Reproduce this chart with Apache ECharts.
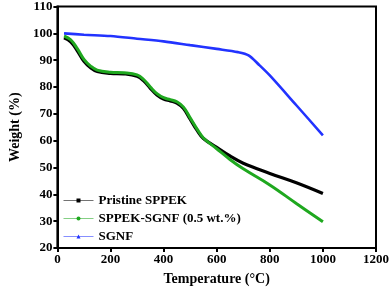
<!DOCTYPE html>
<html><head><meta charset="utf-8">
<script src="https://cdn.jsdelivr.net/npm/echarts@6/dist/echarts.min.js"></script>
<style>html,body{margin:0;padding:0;background:#fff}#c{width:392px;height:292px}</style>
</head><body><div id="c"></div>
<script>
const pristineT = [25, 50, 75, 100, 125, 150, 200, 250, 300, 325, 350, 375, 400, 425, 450, 475, 500, 525, 550, 600, 650, 700, 800, 900, 1000];
const pristineW = [98.3, 96.8, 93.5, 89.6, 87.2, 85.8, 85.1, 84.9, 84.0, 82.3, 79.5, 77.0, 75.5, 74.8, 74.0, 72.0, 68.0, 64.0, 60.8, 57.5, 54.3, 51.6, 47.8, 44.3, 40.3];
const sgnfCompT = [25, 50, 75, 100, 125, 150, 200, 250, 300, 325, 350, 375, 400, 425, 450, 475, 500, 525, 550, 600, 650, 700, 800, 900, 1000];
const sgnfCompW = [99.0, 97.6, 94.3, 90.3, 87.8, 86.3, 85.5, 85.3, 84.5, 82.8, 80.0, 77.5, 76.0, 75.3, 74.5, 72.5, 68.5, 64.5, 61.0, 57.0, 53.0, 49.5, 43.5, 36.6, 29.8];
const sgnfT = [25, 100, 200, 300, 400, 500, 600, 680, 720, 760, 800, 900, 1000];
const sgnfW = [100.0, 99.5, 99.0, 98.0, 97.0, 95.6, 94.2, 93.0, 91.8, 88.2, 84.3, 73.2, 62.0];
const seriesNames = ['Pristine SPPEK', 'SPPEK-SGNF (0.5 wt.%)', 'SGNF'];
const xTicks = [0, 200, 400, 600, 800, 1000, 1200];
const yTicks = [20, 30, 40, 50, 60, 70, 80, 90, 100, 110];

const zip = (a, b) => a.map((v, i) => [v, b[i]]);
const font = '"Liberation Serif", "Times New Roman", serif';
const chart = echarts.init(document.getElementById('c'));
chart.setOption({
  animation: false,
  backgroundColor: '#fff',
  grid: { left: 47, right: 16, top: 6, bottom: 44, show: true, borderColor: '#000', borderWidth: 2 },
  legend: {
    left: 58, top: 189, orient: 'vertical', itemWidth: 30, itemHeight: 5, itemGap: 5,
    textStyle: { fontFamily: font, fontWeight: 'bold', fontSize: 13, color: '#000' },
    data: seriesNames,
    lineStyle: { width: 1, opacity: 0.55 }
  },
  xAxis: {
    type: 'value', min: 0, max: 1200, interval: 200,
    name: 'Temperature (°C)', nameLocation: 'middle', nameGap: 24,
    nameTextStyle: { fontFamily: font, fontWeight: 'bold', fontSize: 14, color: '#000' },
    axisLine: { lineStyle: { color: '#000', width: 2 } },
    axisTick: { show: true, length: 4, lineStyle: { width: 2, color: '#000' } },
    axisLabel: { fontFamily: font, fontWeight: 'bold', fontSize: 13, color: '#000', margin: 5,
      formatter: v => xTicks.includes(v) ? String(v) : '' },
    splitLine: { show: false }
  },
  yAxis: {
    type: 'value', min: 20, max: 110, interval: 10,
    name: 'Weight (%)', nameLocation: 'middle', nameGap: 30, nameRotate: 90,
    nameTextStyle: { fontFamily: font, fontWeight: 'bold', fontSize: 14, color: '#000' },
    axisLine: { lineStyle: { color: '#000', width: 2 } },
    axisTick: { show: true, length: 4, lineStyle: { width: 2, color: '#000' } },
    axisLabel: { fontFamily: font, fontWeight: 'bold', fontSize: 13, color: '#000', margin: 5,
      formatter: v => yTicks.includes(v) ? String(v) : '' },
    splitLine: { show: false }
  },
  series: [
    { name: seriesNames[0], type: 'line', smooth: 0.4, symbol: 'rect', symbolSize: 4, showSymbol: false,
      data: zip(pristineT, pristineW), itemStyle: { color: '#000' }, lineStyle: { color: '#000', width: 3.2 }, z: 2 },
    { name: seriesNames[1], type: 'line', smooth: 0.4, symbol: 'circle', symbolSize: 4, showSymbol: false,
      data: zip(sgnfCompT, sgnfCompW), itemStyle: { color: '#1fa81f' }, lineStyle: { color: '#1fa81f', width: 3 }, z: 3 },
    { name: seriesNames[2], type: 'line', smooth: 0.3, symbol: 'triangle', symbolSize: 5, showSymbol: false,
      data: zip(sgnfT, sgnfW), itemStyle: { color: '#2233ff' }, lineStyle: { color: '#2233ff', width: 2.6 }, z: 4 }
  ]
});
</script></body></html>
